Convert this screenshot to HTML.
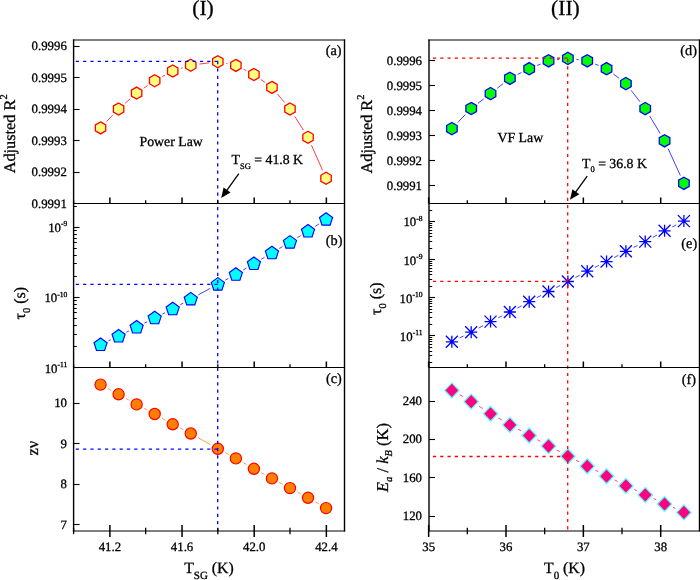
<!DOCTYPE html>
<html><head><meta charset="utf-8"><style>html,body{margin:0;padding:0;background:#fff;}svg{display:block;will-change:transform;} text{stroke:#000;stroke-width:0.3px;}</style></head><body>
<svg width="700" height="580" viewBox="0 0 700 580" font-family='"Liberation Serif", serif' fill="#000" text-rendering="geometricPrecision">
<rect width="700" height="580" fill="#fff"/>
<line x1="106.5" y1="121.68" x2="112.66" y2="115.22" stroke="#ff0000" stroke-width="0.75" />
<line x1="125.05" y1="103.31" x2="130.19" y2="98.79" stroke="#ff0000" stroke-width="0.75" />
<line x1="143.73" y1="88.23" x2="147.59" y2="85.57" stroke="#ff0000" stroke-width="0.75" />
<line x1="162.25" y1="76.63" x2="165.15" y2="75.07" stroke="#ff0000" stroke-width="0.75" />
<line x1="180.91" y1="68.37" x2="182.57" y2="67.83" stroke="#ff0000" stroke-width="0.75" />
<line x1="199.29" y1="64.1" x2="209.29" y2="62.8" stroke="#ff0000" stroke-width="0.75" />
<line x1="226.24" y1="63.43" x2="227.44" y2="63.67" stroke="#ff0000" stroke-width="0.75" />
<line x1="243.54" y1="69.27" x2="246.22" y2="70.63" stroke="#ff0000" stroke-width="0.75" />
<line x1="260.9" y1="79.5" x2="264.94" y2="82.4" stroke="#ff0000" stroke-width="0.75" />
<line x1="277.45" y1="94" x2="284.47" y2="102.4" stroke="#ff0000" stroke-width="0.75" />
<line x1="294.6" y1="116.25" x2="303.4" y2="130.05" stroke="#ff0000" stroke-width="0.75" />
<line x1="311.48" y1="145.17" x2="322.6" y2="170.43" stroke="#ff0000" stroke-width="0.75" />
<line x1="108.34" y1="340.93" x2="110.82" y2="339.77" stroke="#0000ff" stroke-width="0.75" />
<line x1="126.3" y1="332.26" x2="128.94" y2="330.94" stroke="#0000ff" stroke-width="0.75" />
<line x1="144.3" y1="323.19" x2="147.02" y2="321.81" stroke="#0000ff" stroke-width="0.75" />
<line x1="162.38" y1="314.06" x2="165.02" y2="312.74" stroke="#0000ff" stroke-width="0.75" />
<line x1="180.26" y1="304.76" x2="183.22" y2="303.14" stroke="#0000ff" stroke-width="0.75" />
<line x1="198.31" y1="294.87" x2="210.27" y2="288.33" stroke="#0000ff" stroke-width="0.75" />
<line x1="225.38" y1="280.09" x2="228.3" y2="278.51" stroke="#0000ff" stroke-width="0.75" />
<line x1="243.24" y1="269.98" x2="246.52" y2="268.02" stroke="#0000ff" stroke-width="0.75" />
<line x1="261.3" y1="259.21" x2="264.54" y2="257.29" stroke="#0000ff" stroke-width="0.75" />
<line x1="279.34" y1="248.51" x2="282.58" y2="246.59" stroke="#0000ff" stroke-width="0.75" />
<line x1="297.3" y1="237.69" x2="300.7" y2="235.61" stroke="#0000ff" stroke-width="0.75" />
<line x1="315.22" y1="226.39" x2="318.86" y2="224.01" stroke="#0000ff" stroke-width="0.75" />
<line x1="107.96" y1="388.58" x2="111.2" y2="390.32" stroke="#ff8000" stroke-width="0.75" />
<line x1="125.93" y1="398.4" x2="129.31" y2="400.3" stroke="#ff8000" stroke-width="0.75" />
<line x1="144.06" y1="408.35" x2="147.26" y2="410.05" stroke="#ff8000" stroke-width="0.75" />
<line x1="161.97" y1="418.16" x2="165.43" y2="420.14" stroke="#ff8000" stroke-width="0.75" />
<line x1="180.2" y1="428.12" x2="183.28" y2="429.68" stroke="#ff8000" stroke-width="0.75" />
<line x1="198.07" y1="437.63" x2="210.51" y2="444.67" stroke="#ff8000" stroke-width="0.75" />
<line x1="225.24" y1="452.75" x2="228.44" y2="454.45" stroke="#ff8000" stroke-width="0.75" />
<line x1="243.14" y1="462.6" x2="246.62" y2="464.6" stroke="#ff8000" stroke-width="0.75" />
<line x1="261.32" y1="472.75" x2="264.52" y2="474.45" stroke="#ff8000" stroke-width="0.75" />
<line x1="279.34" y1="482.38" x2="282.58" y2="484.12" stroke="#ff8000" stroke-width="0.75" />
<line x1="297.38" y1="492.08" x2="300.62" y2="493.82" stroke="#ff8000" stroke-width="0.75" />
<line x1="315.31" y1="501.96" x2="318.77" y2="503.94" stroke="#ff8000" stroke-width="0.75" />
<line x1="457.82" y1="122.4" x2="465.23" y2="114.7" stroke="#0000ff" stroke-width="0.75" />
<line x1="478" y1="103.25" x2="483.72" y2="98.85" stroke="#0000ff" stroke-width="0.75" />
<line x1="497.27" y1="88.26" x2="503.12" y2="83.64" stroke="#0000ff" stroke-width="0.75" />
<line x1="517.57" y1="74.48" x2="521.5" y2="72.52" stroke="#0000ff" stroke-width="0.75" />
<line x1="537.17" y1="65.45" x2="540.58" y2="64.05" stroke="#0000ff" stroke-width="0.75" />
<line x1="557.08" y1="59.74" x2="559.35" y2="59.46" stroke="#0000ff" stroke-width="0.75" />
<line x1="576.41" y1="59.46" x2="578.68" y2="59.74" stroke="#0000ff" stroke-width="0.75" />
<line x1="595.18" y1="64.05" x2="598.59" y2="65.45" stroke="#0000ff" stroke-width="0.75" />
<line x1="613.37" y1="73.95" x2="619.08" y2="78.35" stroke="#0000ff" stroke-width="0.75" />
<line x1="631.15" y1="90.4" x2="639.97" y2="101.8" stroke="#0000ff" stroke-width="0.75" />
<line x1="649.66" y1="115.97" x2="660.14" y2="133.43" stroke="#0000ff" stroke-width="0.75" />
<line x1="668.13" y1="148.63" x2="680.34" y2="175.47" stroke="#0000ff" stroke-width="0.75" />
<line x1="459.56" y1="337.98" x2="463.49" y2="336.02" stroke="#0000ff" stroke-width="0.75" />
<line x1="478.73" y1="328.07" x2="482.99" y2="325.73" stroke="#0000ff" stroke-width="0.75" />
<line x1="498.23" y1="317.78" x2="502.16" y2="315.82" stroke="#0000ff" stroke-width="0.75" />
<line x1="517.46" y1="307.96" x2="521.61" y2="305.74" stroke="#0000ff" stroke-width="0.75" />
<line x1="536.81" y1="297.69" x2="540.94" y2="295.51" stroke="#0000ff" stroke-width="0.75" />
<line x1="556.18" y1="287.55" x2="560.24" y2="285.45" stroke="#0000ff" stroke-width="0.75" />
<line x1="575.47" y1="277.46" x2="579.63" y2="275.24" stroke="#0000ff" stroke-width="0.75" />
<line x1="594.92" y1="267.38" x2="598.85" y2="265.42" stroke="#0000ff" stroke-width="0.75" />
<line x1="614.15" y1="257.56" x2="618.3" y2="255.34" stroke="#0000ff" stroke-width="0.75" />
<line x1="633.58" y1="247.44" x2="637.54" y2="245.46" stroke="#0000ff" stroke-width="0.75" />
<line x1="652.74" y1="237.41" x2="657.06" y2="234.99" stroke="#0000ff" stroke-width="0.75" />
<line x1="672.25" y1="226.94" x2="676.22" y2="224.96" stroke="#0000ff" stroke-width="0.75" />
<line x1="459.82" y1="394.71" x2="463.23" y2="396.69" stroke="#ff0080" stroke-width="0.75" />
<line x1="478.99" y1="406.18" x2="482.73" y2="408.52" stroke="#ff0080" stroke-width="0.75" />
<line x1="498.49" y1="418.01" x2="501.91" y2="419.99" stroke="#ff0080" stroke-width="0.75" />
<line x1="517.93" y1="429.02" x2="521.14" y2="430.78" stroke="#ff0080" stroke-width="0.75" />
<line x1="537.27" y1="439.62" x2="540.48" y2="441.38" stroke="#ff0080" stroke-width="0.75" />
<line x1="556.68" y1="450.09" x2="559.74" y2="451.71" stroke="#ff0080" stroke-width="0.75" />
<line x1="576.05" y1="460.23" x2="579.05" y2="461.77" stroke="#ff0080" stroke-width="0.75" />
<line x1="595.41" y1="470.19" x2="598.37" y2="471.71" stroke="#ff0080" stroke-width="0.75" />
<line x1="614.78" y1="480.02" x2="617.67" y2="481.48" stroke="#ff0080" stroke-width="0.75" />
<line x1="634.23" y1="489.48" x2="636.89" y2="490.72" stroke="#ff0080" stroke-width="0.75" />
<line x1="653.55" y1="498.52" x2="656.24" y2="499.78" stroke="#ff0080" stroke-width="0.75" />
<line x1="673.01" y1="507.37" x2="675.47" y2="508.43" stroke="#ff0080" stroke-width="0.75" />
<polygon points="100.56,121.9 105.76,124.9 105.76,130.9 100.56,133.9 95.36,130.9 95.36,124.9" fill="#ffff80" stroke="#ff0000" stroke-width="1.3" stroke-linejoin="miter"/>
<polygon points="118.6,103 123.8,106 123.8,112 118.6,115 113.4,112 113.4,106" fill="#ffff80" stroke="#ff0000" stroke-width="1.3" stroke-linejoin="miter"/>
<polygon points="136.64,87.1 141.84,90.1 141.84,96.1 136.64,99.1 131.44,96.1 131.44,90.1" fill="#ffff80" stroke="#ff0000" stroke-width="1.3" stroke-linejoin="miter"/>
<polygon points="154.68,74.7 159.88,77.7 159.88,83.7 154.68,86.7 149.48,83.7 149.48,77.7" fill="#ffff80" stroke="#ff0000" stroke-width="1.3" stroke-linejoin="miter"/>
<polygon points="172.72,65 177.92,68 177.92,74 172.72,77 167.52,74 167.52,68" fill="#ffff80" stroke="#ff0000" stroke-width="1.3" stroke-linejoin="miter"/>
<polygon points="190.76,59.2 195.96,62.2 195.96,68.2 190.76,71.2 185.56,68.2 185.56,62.2" fill="#ffff80" stroke="#ff0000" stroke-width="1.3" stroke-linejoin="miter"/>
<polygon points="217.82,55.7 223.02,58.7 223.02,64.7 217.82,67.7 212.62,64.7 212.62,58.7" fill="#ffff80" stroke="#ff0000" stroke-width="1.3" stroke-linejoin="miter"/>
<polygon points="235.86,59.4 241.06,62.4 241.06,68.4 235.86,71.4 230.66,68.4 230.66,62.4" fill="#ffff80" stroke="#ff0000" stroke-width="1.3" stroke-linejoin="miter"/>
<polygon points="253.9,68.5 259.1,71.5 259.1,77.5 253.9,80.5 248.7,77.5 248.7,71.5" fill="#ffff80" stroke="#ff0000" stroke-width="1.3" stroke-linejoin="miter"/>
<polygon points="271.94,81.4 277.14,84.4 277.14,90.4 271.94,93.4 266.74,90.4 266.74,84.4" fill="#ffff80" stroke="#ff0000" stroke-width="1.3" stroke-linejoin="miter"/>
<polygon points="289.98,103 295.18,106 295.18,112 289.98,115 284.78,112 284.78,106" fill="#ffff80" stroke="#ff0000" stroke-width="1.3" stroke-linejoin="miter"/>
<polygon points="308.02,131.3 313.22,134.3 313.22,140.3 308.02,143.3 302.82,140.3 302.82,134.3" fill="#ffff80" stroke="#ff0000" stroke-width="1.3" stroke-linejoin="miter"/>
<polygon points="326.06,172.3 331.26,175.3 331.26,181.3 326.06,184.3 320.86,181.3 320.86,175.3" fill="#ffff80" stroke="#ff0000" stroke-width="1.3" stroke-linejoin="miter"/>
<polygon points="100.56,338 107.12,342.77 104.62,350.48 96.5,350.48 94,342.77" fill="#00ffff" stroke="#0000ff" stroke-width="1.15" stroke-linejoin="miter"/>
<polygon points="118.6,329.5 125.16,334.27 122.66,341.98 114.54,341.98 112.04,334.27" fill="#00ffff" stroke="#0000ff" stroke-width="1.15" stroke-linejoin="miter"/>
<polygon points="136.64,320.5 143.2,325.27 140.7,332.98 132.58,332.98 130.08,325.27" fill="#00ffff" stroke="#0000ff" stroke-width="1.15" stroke-linejoin="miter"/>
<polygon points="154.68,311.3 161.24,316.07 158.74,323.78 150.62,323.78 148.12,316.07" fill="#00ffff" stroke="#0000ff" stroke-width="1.15" stroke-linejoin="miter"/>
<polygon points="172.72,302.3 179.28,307.07 176.78,314.78 168.66,314.78 166.16,307.07" fill="#00ffff" stroke="#0000ff" stroke-width="1.15" stroke-linejoin="miter"/>
<polygon points="190.76,292.4 197.32,297.17 194.82,304.88 186.7,304.88 184.2,297.17" fill="#00ffff" stroke="#0000ff" stroke-width="1.15" stroke-linejoin="miter"/>
<polygon points="217.82,277.6 224.38,282.37 221.88,290.08 213.76,290.08 211.26,282.37" fill="#00ffff" stroke="#0000ff" stroke-width="1.15" stroke-linejoin="miter"/>
<polygon points="235.86,267.8 242.42,272.57 239.92,280.28 231.8,280.28 229.3,272.57" fill="#00ffff" stroke="#0000ff" stroke-width="1.15" stroke-linejoin="miter"/>
<polygon points="253.9,257 260.46,261.77 257.96,269.48 249.84,269.48 247.34,261.77" fill="#00ffff" stroke="#0000ff" stroke-width="1.15" stroke-linejoin="miter"/>
<polygon points="271.94,246.3 278.5,251.07 276,258.78 267.88,258.78 265.38,251.07" fill="#00ffff" stroke="#0000ff" stroke-width="1.15" stroke-linejoin="miter"/>
<polygon points="289.98,235.6 296.54,240.37 294.04,248.08 285.92,248.08 283.42,240.37" fill="#00ffff" stroke="#0000ff" stroke-width="1.15" stroke-linejoin="miter"/>
<polygon points="308.02,224.5 314.58,229.27 312.08,236.98 303.96,236.98 301.46,229.27" fill="#00ffff" stroke="#0000ff" stroke-width="1.15" stroke-linejoin="miter"/>
<polygon points="326.06,212.7 332.62,217.47 330.12,225.18 322,225.18 319.5,217.47" fill="#00ffff" stroke="#0000ff" stroke-width="1.15" stroke-linejoin="miter"/>
<circle cx="100.56" cy="384.6" r="5.6" fill="#ff8000" stroke="#ff0000" stroke-width="1.2"/>
<circle cx="118.6" cy="394.3" r="5.6" fill="#ff8000" stroke="#ff0000" stroke-width="1.2"/>
<circle cx="136.64" cy="404.4" r="5.6" fill="#ff8000" stroke="#ff0000" stroke-width="1.2"/>
<circle cx="154.68" cy="414" r="5.6" fill="#ff8000" stroke="#ff0000" stroke-width="1.2"/>
<circle cx="172.72" cy="424.3" r="5.6" fill="#ff8000" stroke="#ff0000" stroke-width="1.2"/>
<circle cx="190.76" cy="433.5" r="5.6" fill="#ff8000" stroke="#ff0000" stroke-width="1.2"/>
<circle cx="217.82" cy="448.8" r="5.6" fill="#ff8000" stroke="#ff0000" stroke-width="1.2"/>
<circle cx="235.86" cy="458.4" r="5.6" fill="#ff8000" stroke="#ff0000" stroke-width="1.2"/>
<circle cx="253.9" cy="468.8" r="5.6" fill="#ff8000" stroke="#ff0000" stroke-width="1.2"/>
<circle cx="271.94" cy="478.4" r="5.6" fill="#ff8000" stroke="#ff0000" stroke-width="1.2"/>
<circle cx="289.98" cy="488.1" r="5.6" fill="#ff8000" stroke="#ff0000" stroke-width="1.2"/>
<circle cx="308.02" cy="497.8" r="5.6" fill="#ff8000" stroke="#ff0000" stroke-width="1.2"/>
<circle cx="326.06" cy="508.1" r="5.6" fill="#ff8000" stroke="#ff0000" stroke-width="1.2"/>
<polygon points="451.85,122.5 457.14,125.55 457.14,131.65 451.85,134.7 446.57,131.65 446.57,125.55" fill="#00ff00" stroke="#0000ff" stroke-width="1.3" stroke-linejoin="miter"/>
<polygon points="471.19,102.4 476.48,105.45 476.48,111.55 471.19,114.6 465.91,111.55 465.91,105.45" fill="#00ff00" stroke="#0000ff" stroke-width="1.3" stroke-linejoin="miter"/>
<polygon points="490.53,87.5 495.81,90.55 495.81,96.65 490.53,99.7 485.25,96.65 485.25,90.55" fill="#00ff00" stroke="#0000ff" stroke-width="1.3" stroke-linejoin="miter"/>
<polygon points="509.87,72.2 515.15,75.25 515.15,81.35 509.87,84.4 504.58,81.35 504.58,75.25" fill="#00ff00" stroke="#0000ff" stroke-width="1.3" stroke-linejoin="miter"/>
<polygon points="529.2,62.6 534.49,65.65 534.49,71.75 529.2,74.8 523.92,71.75 523.92,65.65" fill="#00ff00" stroke="#0000ff" stroke-width="1.3" stroke-linejoin="miter"/>
<polygon points="548.54,54.7 553.83,57.75 553.83,63.85 548.54,66.9 543.26,63.85 543.26,57.75" fill="#00ff00" stroke="#0000ff" stroke-width="1.3" stroke-linejoin="miter"/>
<polygon points="567.88,52.3 573.16,55.35 573.16,61.45 567.88,64.5 562.6,61.45 562.6,55.35" fill="#00ff00" stroke="#0000ff" stroke-width="1.3" stroke-linejoin="miter"/>
<polygon points="587.22,54.7 592.5,57.75 592.5,63.85 587.22,66.9 581.93,63.85 581.93,57.75" fill="#00ff00" stroke="#0000ff" stroke-width="1.3" stroke-linejoin="miter"/>
<polygon points="606.55,62.6 611.84,65.65 611.84,71.75 606.55,74.8 601.27,71.75 601.27,65.65" fill="#00ff00" stroke="#0000ff" stroke-width="1.3" stroke-linejoin="miter"/>
<polygon points="625.89,77.5 631.18,80.55 631.18,86.65 625.89,89.7 620.61,86.65 620.61,80.55" fill="#00ff00" stroke="#0000ff" stroke-width="1.3" stroke-linejoin="miter"/>
<polygon points="645.23,102.5 650.51,105.55 650.51,111.65 645.23,114.7 639.95,111.65 639.95,105.55" fill="#00ff00" stroke="#0000ff" stroke-width="1.3" stroke-linejoin="miter"/>
<polygon points="664.57,134.7 669.85,137.75 669.85,143.85 664.57,146.9 659.28,143.85 659.28,137.75" fill="#00ff00" stroke="#0000ff" stroke-width="1.3" stroke-linejoin="miter"/>
<polygon points="683.9,177.2 689.19,180.25 689.19,186.35 683.9,189.4 678.62,186.35 678.62,180.25" fill="#00ff00" stroke="#0000ff" stroke-width="1.3" stroke-linejoin="miter"/>
<path d="M445.85,341.8H457.85M451.85,335.8V347.8M445.85,335.8L457.85,347.8M445.85,347.8L457.85,335.8" stroke="#0000ff" stroke-width="1.3" fill="none"/>
<path d="M465.19,332.2H477.19M471.19,326.2V338.2M465.19,326.2L477.19,338.2M465.19,338.2L477.19,326.2" stroke="#0000ff" stroke-width="1.3" fill="none"/>
<path d="M484.53,321.6H496.53M490.53,315.6V327.6M484.53,315.6L496.53,327.6M484.53,327.6L496.53,315.6" stroke="#0000ff" stroke-width="1.3" fill="none"/>
<path d="M503.87,312H515.87M509.87,306V318M503.87,306L515.87,318M503.87,318L515.87,306" stroke="#0000ff" stroke-width="1.3" fill="none"/>
<path d="M523.2,301.7H535.2M529.2,295.7V307.7M523.2,295.7L535.2,307.7M523.2,307.7L535.2,295.7" stroke="#0000ff" stroke-width="1.3" fill="none"/>
<path d="M542.54,291.5H554.54M548.54,285.5V297.5M542.54,285.5L554.54,297.5M542.54,297.5L554.54,285.5" stroke="#0000ff" stroke-width="1.3" fill="none"/>
<path d="M561.88,281.5H573.88M567.88,275.5V287.5M561.88,275.5L573.88,287.5M561.88,287.5L573.88,275.5" stroke="#0000ff" stroke-width="1.3" fill="none"/>
<path d="M581.22,271.2H593.22M587.22,265.2V277.2M581.22,265.2L593.22,277.2M581.22,277.2L593.22,265.2" stroke="#0000ff" stroke-width="1.3" fill="none"/>
<path d="M600.55,261.6H612.55M606.55,255.6V267.6M600.55,255.6L612.55,267.6M600.55,267.6L612.55,255.6" stroke="#0000ff" stroke-width="1.3" fill="none"/>
<path d="M619.89,251.3H631.89M625.89,245.3V257.3M619.89,245.3L631.89,257.3M619.89,257.3L631.89,245.3" stroke="#0000ff" stroke-width="1.3" fill="none"/>
<path d="M639.23,241.6H651.23M645.23,235.6V247.6M639.23,235.6L651.23,247.6M639.23,247.6L651.23,235.6" stroke="#0000ff" stroke-width="1.3" fill="none"/>
<path d="M658.57,230.8H670.57M664.57,224.8V236.8M658.57,224.8L670.57,236.8M658.57,236.8L670.57,224.8" stroke="#0000ff" stroke-width="1.3" fill="none"/>
<path d="M677.9,221.1H689.9M683.9,215.1V227.1M677.9,215.1L689.9,227.1M677.9,227.1L689.9,215.1" stroke="#0000ff" stroke-width="1.3" fill="none"/>
<polygon points="451.85,382.9 459.05,390.4 451.85,397.9 444.65,390.4" fill="#ff0080" stroke="#60ffff" stroke-width="1.3"/>
<polygon points="471.19,394.1 478.39,401.6 471.19,409.1 463.99,401.6" fill="#ff0080" stroke="#60ffff" stroke-width="1.3"/>
<polygon points="490.53,406.2 497.73,413.7 490.53,421.2 483.33,413.7" fill="#ff0080" stroke="#60ffff" stroke-width="1.3"/>
<polygon points="509.87,417.4 517.07,424.9 509.87,432.4 502.67,424.9" fill="#ff0080" stroke="#60ffff" stroke-width="1.3"/>
<polygon points="529.2,428 536.4,435.5 529.2,443 522,435.5" fill="#ff0080" stroke="#60ffff" stroke-width="1.3"/>
<polygon points="548.54,438.6 555.74,446.1 548.54,453.6 541.34,446.1" fill="#ff0080" stroke="#60ffff" stroke-width="1.3"/>
<polygon points="567.88,448.8 575.08,456.3 567.88,463.8 560.68,456.3" fill="#ff0080" stroke="#60ffff" stroke-width="1.3"/>
<polygon points="587.22,458.8 594.42,466.3 587.22,473.8 580.02,466.3" fill="#ff0080" stroke="#60ffff" stroke-width="1.3"/>
<polygon points="606.55,468.7 613.75,476.2 606.55,483.7 599.35,476.2" fill="#ff0080" stroke="#60ffff" stroke-width="1.3"/>
<polygon points="625.89,478.4 633.09,485.9 625.89,493.4 618.69,485.9" fill="#ff0080" stroke="#60ffff" stroke-width="1.3"/>
<polygon points="645.23,487.4 652.43,494.9 645.23,502.4 638.03,494.9" fill="#ff0080" stroke="#60ffff" stroke-width="1.3"/>
<polygon points="664.57,496.5 671.77,504 664.57,511.5 657.37,504" fill="#ff0080" stroke="#60ffff" stroke-width="1.3"/>
<polygon points="683.9,504.9 691.1,512.4 683.9,519.9 676.7,512.4" fill="#ff0080" stroke="#60ffff" stroke-width="1.3"/>
<line x1="75.8" y1="61.3" x2="217.7" y2="61.3" stroke="#0000ff" stroke-width="1.3" stroke-dasharray="3.2 4.1"/>
<line x1="217.7" y1="61.1" x2="217.7" y2="531" stroke="#0000ff" stroke-width="1.3" stroke-dasharray="3.2 4.1"/>
<line x1="75.8" y1="284.3" x2="217.7" y2="284.3" stroke="#0000ff" stroke-width="1.3" stroke-dasharray="3.2 4.1"/>
<line x1="75.8" y1="449.1" x2="217.7" y2="449.1" stroke="#0000ff" stroke-width="1.3" stroke-dasharray="3.2 4.1"/>
<line x1="432.9" y1="58.2" x2="567.7" y2="58.2" stroke="#ff0000" stroke-width="1.3" stroke-dasharray="3.2 4.1"/>
<line x1="567.7" y1="58.2" x2="567.7" y2="531" stroke="#ff0000" stroke-width="1.3" stroke-dasharray="3.2 4.1" stroke-dashoffset="6.5"/>
<line x1="432.9" y1="281.4" x2="567.7" y2="281.4" stroke="#ff0000" stroke-width="1.3" stroke-dasharray="3.2 4.1"/>
<line x1="432.9" y1="456.5" x2="567.7" y2="456.5" stroke="#ff0000" stroke-width="1.3" stroke-dasharray="3.2 4.1"/>
<line x1="73.6" y1="39.4" x2="73.6" y2="531.6" stroke="#000" stroke-width="1.4" />
<line x1="344.5" y1="39.4" x2="344.5" y2="531.6" stroke="#000" stroke-width="1.4" />
<line x1="72.9" y1="40" x2="345.2" y2="40" stroke="#000" stroke-width="1.2" />
<line x1="72.9" y1="531" x2="345.2" y2="531" stroke="#000" stroke-width="1.2" />
<line x1="73.6" y1="203.5" x2="344.5" y2="203.5" stroke="#000" stroke-width="1.2" />
<line x1="73.6" y1="367.5" x2="344.5" y2="367.5" stroke="#000" stroke-width="1.2" />
<line x1="429" y1="39.4" x2="429" y2="531.6" stroke="#000" stroke-width="1.4" />
<line x1="699.5" y1="39.4" x2="699.5" y2="531.6" stroke="#000" stroke-width="1.4" />
<line x1="428.3" y1="40" x2="700.2" y2="40" stroke="#000" stroke-width="1.2" />
<line x1="428.3" y1="531" x2="700.2" y2="531" stroke="#000" stroke-width="1.2" />
<line x1="429" y1="203.5" x2="699.5" y2="203.5" stroke="#000" stroke-width="1.2" />
<line x1="429" y1="367.5" x2="699.5" y2="367.5" stroke="#000" stroke-width="1.2" />
<line x1="109.88" y1="197.5" x2="109.88" y2="203.5" stroke="#000" stroke-width="1.5" />
<line x1="182.04" y1="197.5" x2="182.04" y2="203.5" stroke="#000" stroke-width="1.5" />
<line x1="254.2" y1="197.5" x2="254.2" y2="203.5" stroke="#000" stroke-width="1.5" />
<line x1="326.36" y1="197.5" x2="326.36" y2="203.5" stroke="#000" stroke-width="1.5" />
<line x1="145.66" y1="200.3" x2="145.66" y2="203.5" stroke="#000" stroke-width="1.3" />
<line x1="217.82" y1="200.3" x2="217.82" y2="203.5" stroke="#000" stroke-width="1.3" />
<line x1="289.98" y1="200.3" x2="289.98" y2="203.5" stroke="#000" stroke-width="1.3" />
<line x1="73.6" y1="200.3" x2="73.6" y2="203.5" stroke="#000" stroke-width="1.3" />
<line x1="109.88" y1="361.5" x2="109.88" y2="367.5" stroke="#000" stroke-width="1.5" />
<line x1="182.04" y1="361.5" x2="182.04" y2="367.5" stroke="#000" stroke-width="1.5" />
<line x1="254.2" y1="361.5" x2="254.2" y2="367.5" stroke="#000" stroke-width="1.5" />
<line x1="326.36" y1="361.5" x2="326.36" y2="367.5" stroke="#000" stroke-width="1.5" />
<line x1="145.66" y1="364.3" x2="145.66" y2="367.5" stroke="#000" stroke-width="1.3" />
<line x1="217.82" y1="364.3" x2="217.82" y2="367.5" stroke="#000" stroke-width="1.3" />
<line x1="289.98" y1="364.3" x2="289.98" y2="367.5" stroke="#000" stroke-width="1.3" />
<line x1="73.6" y1="364.3" x2="73.6" y2="367.5" stroke="#000" stroke-width="1.3" />
<line x1="109.88" y1="525" x2="109.88" y2="537" stroke="#000" stroke-width="1.5" />
<line x1="182.04" y1="525" x2="182.04" y2="537" stroke="#000" stroke-width="1.5" />
<line x1="254.2" y1="525" x2="254.2" y2="537" stroke="#000" stroke-width="1.5" />
<line x1="326.36" y1="525" x2="326.36" y2="537" stroke="#000" stroke-width="1.5" />
<line x1="145.66" y1="527.8" x2="145.66" y2="534.2" stroke="#000" stroke-width="1.3" />
<line x1="217.82" y1="527.8" x2="217.82" y2="534.2" stroke="#000" stroke-width="1.3" />
<line x1="289.98" y1="527.8" x2="289.98" y2="534.2" stroke="#000" stroke-width="1.3" />
<line x1="73.6" y1="527.8" x2="73.6" y2="534.2" stroke="#000" stroke-width="1.3" />
<text x="109.88" y="551.2" font-size="12.8" text-anchor="middle" >41.2</text>
<text x="182.04" y="551.2" font-size="12.8" text-anchor="middle" >41.6</text>
<text x="254.2" y="551.2" font-size="12.8" text-anchor="middle" >42.0</text>
<text x="326.36" y="551.2" font-size="12.8" text-anchor="middle" >42.4</text>
<line x1="428.65" y1="197.5" x2="428.65" y2="203.5" stroke="#000" stroke-width="1.5" />
<line x1="506" y1="197.5" x2="506" y2="203.5" stroke="#000" stroke-width="1.5" />
<line x1="583.35" y1="197.5" x2="583.35" y2="203.5" stroke="#000" stroke-width="1.5" />
<line x1="660.7" y1="197.5" x2="660.7" y2="203.5" stroke="#000" stroke-width="1.5" />
<line x1="467.32" y1="200.3" x2="467.32" y2="203.5" stroke="#000" stroke-width="1.3" />
<line x1="544.67" y1="200.3" x2="544.67" y2="203.5" stroke="#000" stroke-width="1.3" />
<line x1="622.02" y1="200.3" x2="622.02" y2="203.5" stroke="#000" stroke-width="1.3" />
<line x1="428.65" y1="361.5" x2="428.65" y2="367.5" stroke="#000" stroke-width="1.5" />
<line x1="506" y1="361.5" x2="506" y2="367.5" stroke="#000" stroke-width="1.5" />
<line x1="583.35" y1="361.5" x2="583.35" y2="367.5" stroke="#000" stroke-width="1.5" />
<line x1="660.7" y1="361.5" x2="660.7" y2="367.5" stroke="#000" stroke-width="1.5" />
<line x1="467.32" y1="364.3" x2="467.32" y2="367.5" stroke="#000" stroke-width="1.3" />
<line x1="544.67" y1="364.3" x2="544.67" y2="367.5" stroke="#000" stroke-width="1.3" />
<line x1="622.02" y1="364.3" x2="622.02" y2="367.5" stroke="#000" stroke-width="1.3" />
<line x1="428.65" y1="525" x2="428.65" y2="537" stroke="#000" stroke-width="1.5" />
<line x1="506" y1="525" x2="506" y2="537" stroke="#000" stroke-width="1.5" />
<line x1="583.35" y1="525" x2="583.35" y2="537" stroke="#000" stroke-width="1.5" />
<line x1="660.7" y1="525" x2="660.7" y2="537" stroke="#000" stroke-width="1.5" />
<line x1="467.32" y1="527.8" x2="467.32" y2="534.2" stroke="#000" stroke-width="1.3" />
<line x1="544.67" y1="527.8" x2="544.67" y2="534.2" stroke="#000" stroke-width="1.3" />
<line x1="622.02" y1="527.8" x2="622.02" y2="534.2" stroke="#000" stroke-width="1.3" />
<text x="428.65" y="551.2" font-size="12.8" text-anchor="middle" >35</text>
<text x="506" y="551.2" font-size="12.8" text-anchor="middle" >36</text>
<text x="583.35" y="551.2" font-size="12.8" text-anchor="middle" >37</text>
<text x="660.7" y="551.2" font-size="12.8" text-anchor="middle" >38</text>
<line x1="73.6" y1="46.5" x2="79.6" y2="46.5" stroke="#000" stroke-width="1.1" />
<text x="66.8" y="50" font-size="12.8" text-anchor="end" >0.9996</text>
<line x1="73.6" y1="77.5" x2="79.6" y2="77.5" stroke="#000" stroke-width="1.1" />
<text x="66.8" y="81.5" font-size="12.8" text-anchor="end" >0.9995</text>
<line x1="73.6" y1="109.5" x2="79.6" y2="109.5" stroke="#000" stroke-width="1.1" />
<text x="66.8" y="113" font-size="12.8" text-anchor="end" >0.9994</text>
<line x1="73.6" y1="140.5" x2="79.6" y2="140.5" stroke="#000" stroke-width="1.1" />
<text x="66.8" y="144.5" font-size="12.8" text-anchor="end" >0.9993</text>
<line x1="73.6" y1="172.5" x2="79.6" y2="172.5" stroke="#000" stroke-width="1.1" />
<text x="66.8" y="176" font-size="12.8" text-anchor="end" >0.9992</text>
<line x1="73.6" y1="203.5" x2="79.6" y2="203.5" stroke="#000" stroke-width="1.1" />
<text x="66.8" y="207.5" font-size="12.8" text-anchor="end" >0.9991</text>
<line x1="73.6" y1="227.5" x2="79.6" y2="227.5" stroke="#000" stroke-width="1.1" />
<text x="67.3" y="232.1" font-size="12.8" text-anchor="end">10<tspan font-size="7.6" dy="-5.7">-9</tspan></text>
<line x1="73.6" y1="297.5" x2="79.6" y2="297.5" stroke="#000" stroke-width="1.1" />
<text x="67.3" y="302.3" font-size="12.8" text-anchor="end">10<tspan font-size="7.6" dy="-5.7">-10</tspan></text>
<line x1="73.6" y1="367.5" x2="79.6" y2="367.5" stroke="#000" stroke-width="1.1" />
<text x="67.3" y="372.5" font-size="12.8" text-anchor="end">10<tspan font-size="7.6" dy="-5.7">-11</tspan></text>
<line x1="73.6" y1="206.5" x2="76.8" y2="206.5" stroke="#000" stroke-width="1.0" />
<line x1="73.6" y1="276.5" x2="76.8" y2="276.5" stroke="#000" stroke-width="1.0" />
<line x1="73.6" y1="263.5" x2="76.8" y2="263.5" stroke="#000" stroke-width="1.0" />
<line x1="73.6" y1="255.5" x2="76.8" y2="255.5" stroke="#000" stroke-width="1.0" />
<line x1="73.6" y1="248.5" x2="76.8" y2="248.5" stroke="#000" stroke-width="1.0" />
<line x1="73.6" y1="242.5" x2="76.8" y2="242.5" stroke="#000" stroke-width="1.0" />
<line x1="73.6" y1="238.5" x2="76.8" y2="238.5" stroke="#000" stroke-width="1.0" />
<line x1="73.6" y1="234.5" x2="76.8" y2="234.5" stroke="#000" stroke-width="1.0" />
<line x1="73.6" y1="230.5" x2="76.8" y2="230.5" stroke="#000" stroke-width="1.0" />
<line x1="73.6" y1="346.5" x2="76.8" y2="346.5" stroke="#000" stroke-width="1.0" />
<line x1="73.6" y1="334.5" x2="76.8" y2="334.5" stroke="#000" stroke-width="1.0" />
<line x1="73.6" y1="325.5" x2="76.8" y2="325.5" stroke="#000" stroke-width="1.0" />
<line x1="73.6" y1="318.5" x2="76.8" y2="318.5" stroke="#000" stroke-width="1.0" />
<line x1="73.6" y1="312.5" x2="76.8" y2="312.5" stroke="#000" stroke-width="1.0" />
<line x1="73.6" y1="308.5" x2="76.8" y2="308.5" stroke="#000" stroke-width="1.0" />
<line x1="73.6" y1="304.5" x2="76.8" y2="304.5" stroke="#000" stroke-width="1.0" />
<line x1="73.6" y1="300.5" x2="76.8" y2="300.5" stroke="#000" stroke-width="1.0" />
<line x1="73.6" y1="403.5" x2="79.6" y2="403.5" stroke="#000" stroke-width="1.1" />
<text x="67" y="407.3" font-size="12.8" text-anchor="end" >10</text>
<line x1="73.6" y1="443.5" x2="79.6" y2="443.5" stroke="#000" stroke-width="1.1" />
<text x="67" y="447.8" font-size="12.8" text-anchor="end" >9</text>
<line x1="73.6" y1="484.5" x2="79.6" y2="484.5" stroke="#000" stroke-width="1.1" />
<text x="67" y="488.3" font-size="12.8" text-anchor="end" >8</text>
<line x1="73.6" y1="524.5" x2="79.6" y2="524.5" stroke="#000" stroke-width="1.1" />
<text x="67" y="528.8" font-size="12.8" text-anchor="end" >7</text>
<line x1="429" y1="60.5" x2="435" y2="60.5" stroke="#000" stroke-width="1.1" />
<text x="422" y="64.8" font-size="12.8" text-anchor="end" >0.9996</text>
<line x1="429" y1="85.5" x2="435" y2="85.5" stroke="#000" stroke-width="1.1" />
<text x="422" y="89.8" font-size="12.8" text-anchor="end" >0.9995</text>
<line x1="429" y1="110.5" x2="435" y2="110.5" stroke="#000" stroke-width="1.1" />
<text x="422" y="114.8" font-size="12.8" text-anchor="end" >0.9994</text>
<line x1="429" y1="135.5" x2="435" y2="135.5" stroke="#000" stroke-width="1.1" />
<text x="422" y="139.8" font-size="12.8" text-anchor="end" >0.9993</text>
<line x1="429" y1="160.5" x2="435" y2="160.5" stroke="#000" stroke-width="1.1" />
<text x="422" y="164.8" font-size="12.8" text-anchor="end" >0.9992</text>
<line x1="429" y1="185.5" x2="435" y2="185.5" stroke="#000" stroke-width="1.1" />
<text x="422" y="189.8" font-size="12.8" text-anchor="end" >0.9991</text>
<line x1="429" y1="221.5" x2="435" y2="221.5" stroke="#000" stroke-width="1.1" />
<text x="422.5" y="226.45" font-size="12.8" text-anchor="end">10<tspan font-size="7.6" dy="-5.7">-8</tspan></text>
<line x1="429" y1="259.5" x2="435" y2="259.5" stroke="#000" stroke-width="1.1" />
<text x="422.5" y="264.55" font-size="12.8" text-anchor="end">10<tspan font-size="7.6" dy="-5.7">-9</tspan></text>
<line x1="429" y1="297.5" x2="435" y2="297.5" stroke="#000" stroke-width="1.1" />
<text x="422.5" y="302.65" font-size="12.8" text-anchor="end">10<tspan font-size="7.6" dy="-5.7">-10</tspan></text>
<line x1="429" y1="335.5" x2="435" y2="335.5" stroke="#000" stroke-width="1.1" />
<text x="422.5" y="340.75" font-size="12.8" text-anchor="end">10<tspan font-size="7.6" dy="-5.7">-11</tspan></text>
<line x1="429" y1="210.5" x2="432.2" y2="210.5" stroke="#000" stroke-width="1.0" />
<line x1="429" y1="248.5" x2="432.2" y2="248.5" stroke="#000" stroke-width="1.0" />
<line x1="429" y1="241.5" x2="432.2" y2="241.5" stroke="#000" stroke-width="1.0" />
<line x1="429" y1="236.5" x2="432.2" y2="236.5" stroke="#000" stroke-width="1.0" />
<line x1="429" y1="233.5" x2="432.2" y2="233.5" stroke="#000" stroke-width="1.0" />
<line x1="429" y1="230.5" x2="432.2" y2="230.5" stroke="#000" stroke-width="1.0" />
<line x1="429" y1="227.5" x2="432.2" y2="227.5" stroke="#000" stroke-width="1.0" />
<line x1="429" y1="225.5" x2="432.2" y2="225.5" stroke="#000" stroke-width="1.0" />
<line x1="429" y1="223.5" x2="432.2" y2="223.5" stroke="#000" stroke-width="1.0" />
<line x1="429" y1="286.5" x2="432.2" y2="286.5" stroke="#000" stroke-width="1.0" />
<line x1="429" y1="279.5" x2="432.2" y2="279.5" stroke="#000" stroke-width="1.0" />
<line x1="429" y1="274.5" x2="432.2" y2="274.5" stroke="#000" stroke-width="1.0" />
<line x1="429" y1="271.5" x2="432.2" y2="271.5" stroke="#000" stroke-width="1.0" />
<line x1="429" y1="268.5" x2="432.2" y2="268.5" stroke="#000" stroke-width="1.0" />
<line x1="429" y1="265.5" x2="432.2" y2="265.5" stroke="#000" stroke-width="1.0" />
<line x1="429" y1="263.5" x2="432.2" y2="263.5" stroke="#000" stroke-width="1.0" />
<line x1="429" y1="261.5" x2="432.2" y2="261.5" stroke="#000" stroke-width="1.0" />
<line x1="429" y1="324.5" x2="432.2" y2="324.5" stroke="#000" stroke-width="1.0" />
<line x1="429" y1="317.5" x2="432.2" y2="317.5" stroke="#000" stroke-width="1.0" />
<line x1="429" y1="312.5" x2="432.2" y2="312.5" stroke="#000" stroke-width="1.0" />
<line x1="429" y1="309.5" x2="432.2" y2="309.5" stroke="#000" stroke-width="1.0" />
<line x1="429" y1="306.5" x2="432.2" y2="306.5" stroke="#000" stroke-width="1.0" />
<line x1="429" y1="303.5" x2="432.2" y2="303.5" stroke="#000" stroke-width="1.0" />
<line x1="429" y1="301.5" x2="432.2" y2="301.5" stroke="#000" stroke-width="1.0" />
<line x1="429" y1="299.5" x2="432.2" y2="299.5" stroke="#000" stroke-width="1.0" />
<line x1="429" y1="362.5" x2="432.2" y2="362.5" stroke="#000" stroke-width="1.0" />
<line x1="429" y1="355.5" x2="432.2" y2="355.5" stroke="#000" stroke-width="1.0" />
<line x1="429" y1="351.5" x2="432.2" y2="351.5" stroke="#000" stroke-width="1.0" />
<line x1="429" y1="347.5" x2="432.2" y2="347.5" stroke="#000" stroke-width="1.0" />
<line x1="429" y1="344.5" x2="432.2" y2="344.5" stroke="#000" stroke-width="1.0" />
<line x1="429" y1="341.5" x2="432.2" y2="341.5" stroke="#000" stroke-width="1.0" />
<line x1="429" y1="339.5" x2="432.2" y2="339.5" stroke="#000" stroke-width="1.0" />
<line x1="429" y1="337.5" x2="432.2" y2="337.5" stroke="#000" stroke-width="1.0" />
<line x1="429" y1="401.5" x2="435" y2="401.5" stroke="#000" stroke-width="1.1" />
<text x="422" y="405.1" font-size="12.8" text-anchor="end" >240</text>
<line x1="429" y1="439.5" x2="435" y2="439.5" stroke="#000" stroke-width="1.1" />
<text x="422" y="443.4" font-size="12.8" text-anchor="end" >200</text>
<line x1="429" y1="477.5" x2="435" y2="477.5" stroke="#000" stroke-width="1.1" />
<text x="422" y="481.7" font-size="12.8" text-anchor="end" >160</text>
<line x1="429" y1="516.5" x2="435" y2="516.5" stroke="#000" stroke-width="1.1" />
<text x="422" y="520" font-size="12.8" text-anchor="end" >120</text>
<text x="341.6" y="55.4" font-size="14.3" text-anchor="end" >(a)</text>
<text x="342.4" y="245" font-size="14.3" text-anchor="end" >(b)</text>
<text x="341.8" y="383.4" font-size="14.3" text-anchor="end" >(c)</text>
<text x="697" y="55.4" font-size="14.3" text-anchor="end" >(d)</text>
<text x="697.2" y="247.8" font-size="14.3" text-anchor="end" >(e)</text>
<text x="696" y="384.2" font-size="14.3" text-anchor="end" >(f)</text>
<text x="203" y="14.9" font-size="21.5" text-anchor="middle" >(I)</text>
<text x="565.4" y="14.9" font-size="21.5" text-anchor="middle" >(II)</text>
<text x="139.5" y="146" font-size="13.8" text-anchor="start" >Power Law</text>
<text x="497.5" y="142.1" font-size="13.8" text-anchor="start" >VF Law</text>
<text x="231.5" y="163.6" font-size="13.8">T<tspan font-size="8.5" dy="5.3">SG</tspan><tspan dy="-5.3"> = 41.8 K</tspan></text>
<text x="582.0" y="167.9" font-size="13.8">T<tspan font-size="8.5" dy="4.5">0</tspan><tspan dy="-4.5"> = 36.8 K</tspan></text>
<line x1="238.8" y1="173.6" x2="226.45" y2="190.79" stroke="#000" stroke-width="1.3" />
<polygon points="221.2,198.1 223.58,187.5 230.49,192.46" fill="#000"/>
<line x1="587.2" y1="176.1" x2="575.29" y2="192.52" stroke="#000" stroke-width="1.3" />
<polygon points="570,199.8 572.43,189.21 579.31,194.2" fill="#000"/>
<text x="184.2" y="573.4" font-size="15.8">T<tspan font-size="11" dy="5.5">SG</tspan><tspan dy="-5.5"> (K)</tspan></text>
<text x="544.0" y="573.4" font-size="15.8">T<tspan font-size="11" dy="5.5">0</tspan><tspan dy="-5.5"> (K)</tspan></text>
<text transform="translate(15.2,173.3) rotate(-90)" font-size="16.3">Adjusted R<tspan font-size="10.5" dy="-8.5">2</tspan></text>
<text transform="translate(372,173.5) rotate(-90)" font-size="16.3">Adjusted R<tspan font-size="10.5" dy="-8.5">2</tspan></text>
<text transform="translate(24.8,319.5) rotate(-90)" font-size="16">&#964;<tspan font-size="10.5" dy="5">0</tspan><tspan dy="-5"> (s)</tspan></text>
<text transform="translate(381,315) rotate(-90)" font-size="16">&#964;<tspan font-size="10.5" dy="5">0</tspan><tspan dy="-5"> (s)</tspan></text>
<text transform="translate(38.2,455.5) rotate(-90)" font-size="16.5">z&#957;</text>
<text transform="translate(387.6,492) rotate(-90)" font-size="16.5"><tspan font-style="italic">E</tspan><tspan font-style="italic" font-size="10.5" dy="4">a</tspan><tspan dy="-4"> / </tspan><tspan font-style="italic">k</tspan><tspan font-style="italic" font-size="10.5" dy="4">B</tspan><tspan dy="-4"> (K)</tspan></text>
</svg>
</body></html>
